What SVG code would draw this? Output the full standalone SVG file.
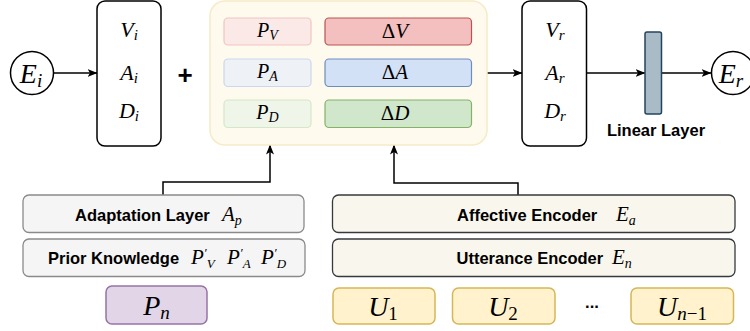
<svg xmlns="http://www.w3.org/2000/svg" width="750" height="331" viewBox="0 0 750 331">
<defs>
<marker id="arr" viewBox="0 0 10 8" refX="9.5" refY="4" markerWidth="10" markerHeight="8" markerUnits="userSpaceOnUse" orient="auto">
<path d="M0,0 L10,4 L0,8 L2.5,4 z" fill="#000"/>
</marker>
<style>
.m{font-family:"Liberation Serif","DejaVu Serif",serif;font-style:italic;fill:#000}
.r{font-style:normal}
.b{font-family:"Liberation Sans",Arial,sans-serif;font-weight:bold;font-size:16.5px;fill:#000}
.ln{fill:none;stroke:#000;stroke-width:1.5}
.vbox{fill:#fff;stroke:#000;stroke-width:1.5}
</style>
</defs>
<rect width="750" height="331" fill="#fff"/>

<g id="connectors">
<line class="ln" x1="54" y1="73" x2="97" y2="73" marker-end="url(#arr)"/>
<line class="ln" x1="487" y1="73" x2="522" y2="73" marker-end="url(#arr)"/>
<line class="ln" x1="587" y1="73" x2="645" y2="73" marker-end="url(#arr)"/>
<line class="ln" x1="662" y1="73" x2="711" y2="73" marker-end="url(#arr)"/>
<polyline class="ln" points="163,195 163,182 270,182 270,145" marker-end="url(#arr)"/>
<polyline class="ln" points="518,195 518,183 394,183 394,145" marker-end="url(#arr)"/>
</g>

<g id="Ei">
<circle cx="32" cy="73" r="21.5" fill="#fff" stroke="#000" stroke-width="1.5"/>
<text class="m" x="31" y="83" font-size="28" text-anchor="middle">E<tspan font-size="19" dy="4">i</tspan></text>
</g>

<g id="VAD_i">
<rect class="vbox" x="97" y="1" width="64" height="145" rx="8"/>
<text class="m" x="129" y="37" font-size="22" text-anchor="middle">V<tspan font-size="15" dy="3">i</tspan></text>
<text class="m" x="129" y="80" font-size="22" text-anchor="middle">A<tspan font-size="15" dy="3">i</tspan></text>
<text class="m" x="129" y="118" font-size="22" text-anchor="middle">D<tspan font-size="15" dy="3">i</tspan></text>
</g>

<g id="plus">
<text x="185" y="84" font-family="Liberation Sans,Arial,sans-serif" font-weight="bold" font-size="26" text-anchor="middle">+</text>
</g>

<g id="container">
<rect x="210" y="1" width="277" height="144" rx="15" fill="#fffaee" stroke="#f6ebc6" stroke-width="1.5"/>
<rect x="224" y="18" width="87" height="27" rx="4" fill="#fbe9e7" stroke="#f2c4c2" stroke-width="1.2"/>
<rect x="325" y="18" width="146.5" height="27" rx="4" fill="#f4bfbf" stroke="#b85450" stroke-width="1.2"/>
<rect x="224" y="59" width="87" height="27.5" rx="4" fill="#eef2f6" stroke="#c9d8ec" stroke-width="1.2"/>
<rect x="325" y="59" width="146.5" height="27.5" rx="4" fill="#d2e1f6" stroke="#6c8ebf" stroke-width="1.2"/>
<rect x="224" y="100" width="87" height="27.5" rx="4" fill="#eff5e9" stroke="#d3e8c6" stroke-width="1.2"/>
<rect x="325" y="100" width="146.5" height="27.5" rx="4" fill="#d0e7cc" stroke="#82b366" stroke-width="1.2"/>
<text class="m" x="267.5" y="37" font-size="20" text-anchor="middle">P<tspan font-size="14" dy="3">V</tspan></text>
<text class="m" x="267.5" y="78" font-size="20" text-anchor="middle">P<tspan font-size="14" dy="3">A</tspan></text>
<text class="m" x="267.5" y="119" font-size="20" text-anchor="middle">P<tspan font-size="14" dy="3">D</tspan></text>
<text class="m" x="395" y="38" font-size="21" text-anchor="middle"><tspan class="r">Δ</tspan>V</text>
<text class="m" x="395" y="79" font-size="21" text-anchor="middle"><tspan class="r">Δ</tspan>A</text>
<text class="m" x="395" y="120" font-size="21" text-anchor="middle"><tspan class="r">Δ</tspan>D</text>
</g>

<g id="VAD_r">
<rect class="vbox" x="522" y="1" width="64.5" height="145" rx="8"/>
<text class="m" x="555" y="37" font-size="22" text-anchor="middle">V<tspan font-size="15" dy="3">r</tspan></text>
<text class="m" x="555" y="80" font-size="22" text-anchor="middle">A<tspan font-size="15" dy="3">r</tspan></text>
<text class="m" x="555" y="118" font-size="22" text-anchor="middle">D<tspan font-size="15" dy="3">r</tspan></text>
</g>

<g id="linear">
<rect x="645" y="32" width="16.5" height="82" rx="2" fill="#aabbc8" stroke="#23445d" stroke-width="1.5"/>
<text class="b" x="656" y="136" text-anchor="middle">Linear Layer</text>
</g>

<g id="Er">
<circle cx="733" cy="73" r="21.5" fill="#fff" stroke="#000" stroke-width="1.5"/>
<text class="m" x="731" y="83" font-size="28" text-anchor="middle">E<tspan font-size="19" dy="4">r</tspan></text>
</g>

<g id="adaptation">
<rect x="23" y="195" width="281" height="37.5" rx="6" fill="#f5f5f5" stroke="#8a8a8a" stroke-width="1.3"/>
<text class="b" x="75" y="221">Adaptation Layer</text>
<text class="m" x="222" y="221" font-size="21">A<tspan font-size="14" dy="4">p</tspan></text>
</g>

<g id="prior">
<rect x="23" y="239" width="282" height="37.5" rx="6" fill="#f5f5f5" stroke="#8a8a8a" stroke-width="1.3"/>
<text class="b" x="48" y="264">Prior Knowledge</text>
<text class="m" x="191" y="264" font-size="21">P<tspan font-size="13" dy="-7">′</tspan><tspan font-size="13" dy="11">V</tspan></text>
<text class="m" x="227" y="264" font-size="21">P<tspan font-size="13" dy="-7">′</tspan><tspan font-size="13" dy="11">A</tspan></text>
<text class="m" x="261" y="264" font-size="21">P<tspan font-size="13" dy="-7">′</tspan><tspan font-size="13" dy="11">D</tspan></text>
</g>

<g id="Pn">
<rect x="106" y="286" width="101" height="38" rx="6" fill="#e1d5e7" stroke="#9673a6" stroke-width="1.5"/>
<text class="m" x="156.5" y="315" font-size="28" text-anchor="middle">P<tspan font-size="19" dy="4">n</tspan></text>
</g>

<g id="affective">
<rect x="332.5" y="195" width="402.5" height="37.5" rx="6" fill="#f9f7ed" stroke="#36393d" stroke-width="1.3"/>
<text class="b" x="457" y="221">Affective Encoder</text>
<text class="m" x="616" y="221" font-size="21">E<tspan font-size="14" dy="4">a</tspan></text>
</g>

<g id="utterance">
<rect x="332.5" y="239" width="402.5" height="37.5" rx="6" fill="#f9f7ed" stroke="#36393d" stroke-width="1.3"/>
<text class="b" x="456.5" y="264">Utterance Encoder</text>
<text class="m" x="612" y="264" font-size="21">E<tspan font-size="14" dy="4">n</tspan></text>
</g>

<g id="U1">
<rect x="333" y="288" width="102" height="36" rx="6" fill="#fff2cc" stroke="#d6b656" stroke-width="1.5"/>
<text class="m" x="383" y="316" font-size="28" text-anchor="middle">U<tspan class="r" font-size="19" dy="4">1</tspan></text>
</g>
<g id="U2">
<rect x="452.5" y="288" width="102.5" height="36" rx="6" fill="#fff2cc" stroke="#d6b656" stroke-width="1.5"/>
<text class="m" x="503" y="316" font-size="28" text-anchor="middle">U<tspan class="r" font-size="19" dy="4">2</tspan></text>
</g>
<g id="dots">
<text class="b" x="592" y="308" text-anchor="middle">...</text>
</g>
<g id="Un1">
<rect x="631" y="288" width="102.5" height="36" rx="6" fill="#fff2cc" stroke="#d6b656" stroke-width="1.5"/>
<text class="m" x="682" y="316" font-size="28" text-anchor="middle">U<tspan font-size="19" dy="4">n</tspan><tspan class="r" font-size="19">−1</tspan></text>
</g>
</svg>
